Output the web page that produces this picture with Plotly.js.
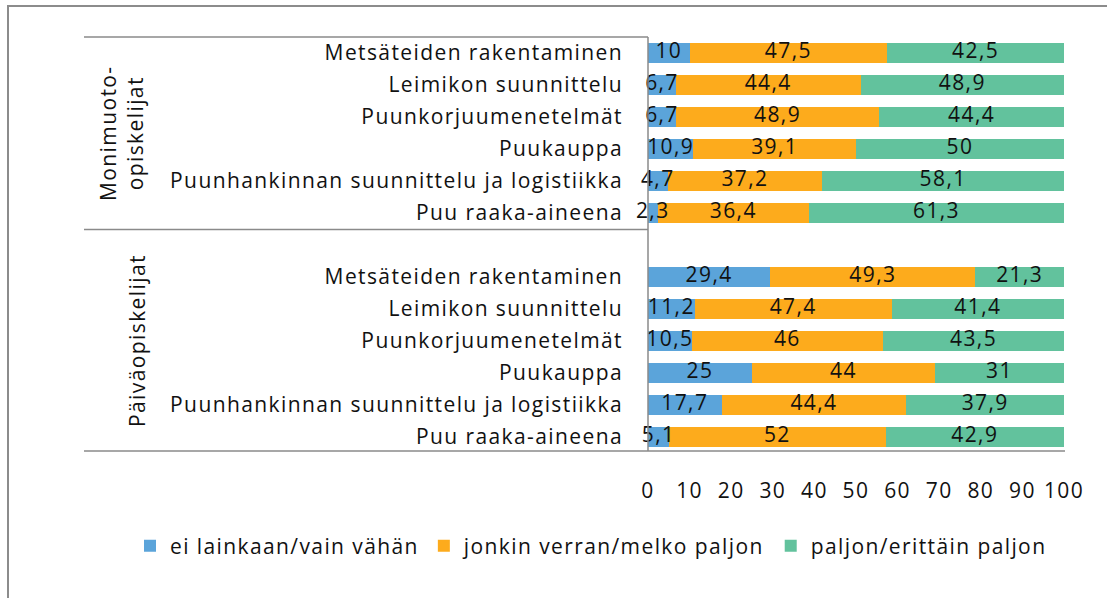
<!DOCTYPE html>
<html>
<head>
<meta charset="utf-8">
<script src="https://cdn.plot.ly/plotly-3.0.1.min.js"></script>
<style>
html,body{margin:0;padding:0;background:#fff;}
#chart{width:1107px;height:598px;}
svg text{letter-spacing:1.4px;}
</style>
</head>
<body>
<div id="chart"></div>
<script>
// ---- data ----
const groupNames = ["Monimuoto-<br>opiskelijat", "Päiväopiskelijat"];
const topics = [
  "Metsäteiden rakentaminen",
  "Leimikon suunnittelu",
  "Puunkorjuumenetelmät",
  "Puukauppa",
  "Puunhankinnan suunnittelu ja logistiikka",
  "Puu raaka-aineena"
];
const seriesNames = ["ei lainkaan/vain vähän", "jonkin verran/melko paljon", "paljon/erittäin paljon"];
// Monimuoto-opiskelijat
const moniLow  = [10, 6.7, 6.7, 10.9, 4.7, 2.3];
const moniMid  = [47.5, 44.4, 48.9, 39.1, 37.2, 36.4];
const moniHigh = [42.5, 48.9, 44.4, 50, 58.1, 61.3];
// Päiväopiskelijat
const paivaLow  = [29.4, 11.2, 10.5, 25, 17.7, 5.1];
const paivaMid  = [49.3, 47.4, 46, 44, 44.4, 52];
const paivaHigh = [21.3, 41.4, 43.5, 31, 37.9, 42.9];
const xTicks = [0, 10, 20, 30, 40, 50, 60, 70, 80, 90, 100];

// ---- build ----
const colors = ["#5BA4DA", "#FDAB1C", "#62C29D"];
const FONT = "Open Sans, sans-serif";
const FS = 21;
const n = topics.length;
const yMoni = topics.map((_, i) => i);
const yPaiva = topics.map((_, i) => i + n + 1);
const yAll = yMoni.concat(yPaiva);
const fmt = v => String(v).replace(".", ",");
const series = [moniLow.concat(paivaLow), moniMid.concat(paivaMid), moniHigh.concat(paivaHigh)];

const barTraces = series.map((vals, k) => ({
  type: "bar",
  orientation: "h",
  name: seriesNames[k],
  x: vals,
  y: yAll,
  marker: {color: colors[k], line: {width: 0}},
  hoverinfo: "skip"
}));

// value labels drawn on top of all bars, centred in each stacked segment
const labelTraces = series.map((vals, k) => ({
  type: "scatter",
  mode: "text",
  showlegend: false,
  x: vals.map((v, i) => series.slice(0, k).reduce((s, arr) => s + arr[i], 0) + v / 2),
  y: yAll,
  text: vals.map(fmt),
  textposition: "middle center",
  cliponaxis: false,
  textfont: {family: FONT, size: FS, color: "#111"},
  hoverinfo: "skip"
}));

// pixel geometry
const W = 1107, H = 598;
const ML = 8, MR = 8, T = 37, B = 453;
const PL = 648, PR = 1064;           // plot x extent in pixels
const GW = W - ML - MR;
const px = p => (p - ML) / GW;
const py = p => (B - p) / (B - T);
const lineCol = "#8a8a8a";
const shapes = [
  {type: "line", xref: "paper", yref: "paper", x0: px(84), x1: px(PL), y0: py(37), y1: py(37), line: {color: lineCol, width: 1.5}},
  {type: "line", xref: "paper", yref: "paper", x0: px(84), x1: px(PL), y0: py(229.5), y1: py(229.5), line: {color: lineCol, width: 1.5}},
  {type: "line", xref: "paper", yref: "paper", x0: px(84), x1: px(1065), y0: py(451), y1: py(451), line: {color: lineCol, width: 1.5}},
  {type: "line", xref: "paper", yref: "paper", x0: px(PL), x1: px(PL), y0: py(37), y1: py(451), line: {color: lineCol, width: 1.5}},
  {type: "rect", xref: "paper", yref: "paper", x0: px(8), x1: px(1300), y0: py(6), y1: py(800), line: {color: "#8c8c8c", width: 2}, layer: "below"}
];

const annotations = [
  {xref: "paper", yref: "paper", x: px(121), y: py(133), text: groupNames[0], textangle: -90, showarrow: false,
   font: {family: FONT, size: FS, color: "#111"}, xanchor: "center", yanchor: "middle"},
  {xref: "paper", yref: "paper", x: px(137), y: py(341), text: groupNames[1], textangle: -90, showarrow: false,
   font: {family: FONT, size: FS, color: "#111"}, xanchor: "center", yanchor: "middle"}
];

const layout = {
  width: W, height: H,
  margin: {l: ML, r: MR, t: T, b: H - B, pad: 0},
  paper_bgcolor: "#fff", plot_bgcolor: "#fff",
  barmode: "stack",
  bargap: 0.4,
  showlegend: true,
  legend: {orientation: "h", x: px(591), xanchor: "center", y: py(546), yanchor: "middle",
           font: {family: FONT, size: FS, color: "#111"}, itemwidth: 30, traceorder: "normal"},
  xaxis: {domain: [px(PL), px(PR)], range: [0, 100], tickvals: xTicks, ticktext: xTicks.map(String), showgrid: false, zeroline: false,
          showline: false, ticks: "", ticklabelstandoff: 23, tickfont: {family: FONT, size: FS, color: "#111"}, fixedrange: true},
  yaxis: {range: [2 * n + 0.5, -0.5], tickvals: yAll, ticktext: topics.concat(topics), showgrid: false, zeroline: false,
          showline: false, ticks: "", ticklabelstandoff: 24, tickfont: {family: FONT, size: FS, color: "#111"}, fixedrange: true},
  shapes: shapes,
  annotations: annotations,
  font: {family: FONT}
};

Plotly.newPlot("chart", barTraces.concat(labelTraces), layout, {displayModeBar: false, staticPlot: true});
</script>
</body>
</html>
